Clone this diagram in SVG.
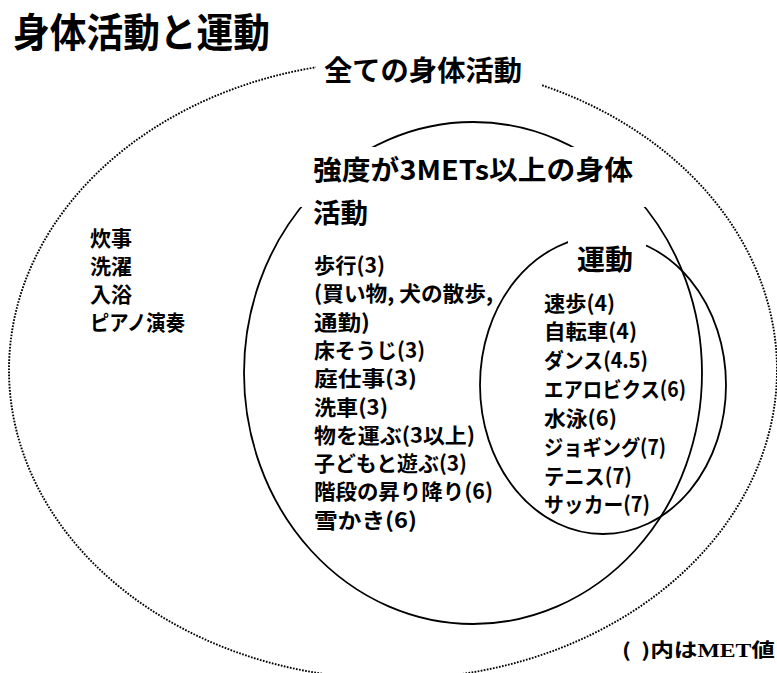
<svg xmlns="http://www.w3.org/2000/svg" width="777" height="673" viewBox="0 0 777 673">
<style>
text{font-family:"Noto Sans CJK JP","Noto Sans CJK SC",sans-serif;font-weight:bold;fill:#000}
.ring{fill:none;stroke:#000;stroke-width:1.8}
.dot{fill:none;stroke:#000;stroke-width:1.9;stroke-dasharray:1.7 1.4}
.mask{fill:#fff;stroke:none}
.item{font-size:21px}
.head{font-size:27px}
</style>
<rect width="777" height="673" fill="#fff"/>
<text id="title" x="13" y="47" font-size="40" textLength="257" lengthAdjust="spacingAndGlyphs">身体活動と運動</text>
<g id="connectors"/>
<g id="all-activity">
<ellipse class="dot" cx="393" cy="370" rx="384" ry="309"/>
<rect class="mask" x="316" y="52" width="226" height="40"/>
<text x="324" y="81" font-size="28" textLength="198" lengthAdjust="spacingAndGlyphs">全ての身体活動</text>
<g class="item">
<text x="90" y="246" textLength="42" lengthAdjust="spacingAndGlyphs">炊事</text>
<text x="90" y="274" textLength="42" lengthAdjust="spacingAndGlyphs">洗濯</text>
<text x="90" y="302" textLength="42" lengthAdjust="spacingAndGlyphs">入浴</text>
<text x="90" y="330" textLength="95" lengthAdjust="spacingAndGlyphs">ピアノ演奏</text>
</g>
</g>
<g id="moderate-activity">
<ellipse class="ring" cx="473" cy="373" rx="229" ry="251"/>
<rect class="mask" x="298" y="147" width="352" height="60"/>
<text class="head" x="313" y="180" textLength="320" lengthAdjust="spacingAndGlyphs">強度が3METs以上の身体</text>
<text class="head" x="313" y="223" textLength="55" lengthAdjust="spacingAndGlyphs">活動</text>
<g class="item">
<text x="314" y="273" textLength="71" lengthAdjust="spacingAndGlyphs">歩行(3)</text>
<text x="314" y="301" textLength="179" lengthAdjust="spacingAndGlyphs">(買い物, 犬の散歩,</text>
<text x="314" y="330" textLength="56" lengthAdjust="spacingAndGlyphs">通勤)</text>
<text x="314" y="358" textLength="111" lengthAdjust="spacingAndGlyphs">床そうじ(3)</text>
<text x="314" y="386" textLength="103" lengthAdjust="spacingAndGlyphs">庭仕事(3)</text>
<text x="314" y="415" textLength="74" lengthAdjust="spacingAndGlyphs">洗車(3)</text>
<text x="314" y="443" textLength="161" lengthAdjust="spacingAndGlyphs">物を運ぶ(3以上)</text>
<text x="314" y="471" textLength="153" lengthAdjust="spacingAndGlyphs">子どもと遊ぶ(3)</text>
<text x="314" y="499" textLength="179" lengthAdjust="spacingAndGlyphs">階段の昇り降り(6)</text>
<text x="314" y="528" textLength="103" lengthAdjust="spacingAndGlyphs">雪かき(6)</text>
</g>
</g>
<g id="exercise">
<ellipse class="ring" cx="603" cy="385" rx="123" ry="149"/>
<rect class="mask" x="568" y="226" width="78" height="50"/>
<text x="577" y="270" font-size="28" textLength="56" lengthAdjust="spacingAndGlyphs">運動</text>
<g class="item">
<text x="544" y="311" textLength="71" lengthAdjust="spacingAndGlyphs">速歩(4)</text>
<text x="544" y="339" textLength="93" lengthAdjust="spacingAndGlyphs">自転車(4)</text>
<text x="544" y="368" textLength="104" lengthAdjust="spacingAndGlyphs">ダンス(4.5)</text>
<text x="544" y="397" textLength="142" lengthAdjust="spacingAndGlyphs">エアロビクス(6)</text>
<text x="544" y="426" textLength="73" lengthAdjust="spacingAndGlyphs">水泳(6)</text>
<text x="544" y="455" textLength="122" lengthAdjust="spacingAndGlyphs">ジョギング(7)</text>
<text x="544" y="484" textLength="88" lengthAdjust="spacingAndGlyphs">テニス(7)</text>
<text x="544" y="512" textLength="106" lengthAdjust="spacingAndGlyphs">サッカー(7)</text>
</g>
</g>
<text id="note" x="622" y="657" font-size="19" textLength="153" lengthAdjust="spacingAndGlyphs">(<tspan dx="4"> )</tspan>内は<tspan font-family="Liberation Serif,serif">MET</tspan>値</text>
</svg>
